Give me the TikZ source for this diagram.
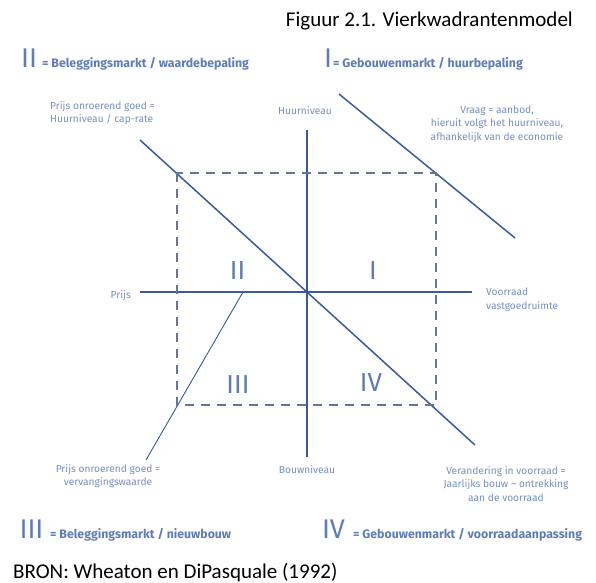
\documentclass[tikz,border=0pt]{standalone}
\usepackage{fontspec}
\setmainfont{Fira Sans}
\newfontfamily\calib{Carlito}
\definecolor{axiscol}{HTML}{3A5A9C}
\definecolor{lblcol}{HTML}{7890BC}
\definecolor{legcol}{HTML}{5F7DB3}
\definecolor{dashcol}{HTML}{6078A0}
\tikzset{
  axisline/.style={draw=axiscol, line width=1.5pt},
  thinline/.style={draw=axiscol, line width=0.9pt},
  dashbox/.style={draw=dashcol, line width=1.1pt, dash pattern=on 9pt off 7pt},
  lbl/.style={text=lblcol, font=\fontsize{10.2}{13.5}\selectfont, inner sep=0pt},
  roman/.style={text=legcol, font=\fontsize{26}{26}\selectfont, inner sep=0pt},
  legnum/.style={text=legcol, font=\fontsize{27}{27}\selectfont, inner sep=0pt, anchor=base},
  legtext/.style={text=legcol, font=\fontsize{12.3}{14}\selectfont\bfseries, inner sep=0pt, anchor=base west},
  plain/.style={text=black, font=\calib\fontsize{21}{24}\selectfont, inner sep=0pt}
}
\begin{document}
\begin{tikzpicture}[x=1pt,y=-1pt]
\useasboundingbox[fill=white] (0,0) rectangle (596,582);
% axes
\coordinate (xl) at (140,292);
\coordinate (xr) at (472,292);
\coordinate (yt) at (307,130);
\coordinate (yb) at (307,457);
\draw[axisline] (xl) -- (xr);
\draw[axisline] (yt) -- (yb);
% curves
\coordinate (d1) at (140,140);
\coordinate (d2) at (475,445);
\draw[axisline] (d1) -- (d2);
\coordinate (q1a) at (339,94);
\coordinate (q1b) at (515,238);
\draw[axisline] (q1a) -- (q1b);
\coordinate (q3a) at (243,292);
\coordinate (q3b) at (146,460);
\draw[thinline] (q3a) -- (q3b);
% dashed box
\coordinate (bx1) at (177,173);
\coordinate (bx2) at (436,405);
\draw[dashbox] (bx1) rectangle (bx2);
% quadrant numerals
\node[roman] (rII) at (237.5,271) {II};
\node[roman] (rI) at (373,271) {I};
\node[roman] (rIII) at (238,385) {III};
\node[roman] (rIV) at (371,383) {IV};
% labels
\node[lbl] (huur) at (305,111) {Huurniveau};
\node[lbl, anchor=north west, align=left] (pog1) at (50,101) {Prijs onroerend goed =\\Huurniveau / cap-rate};
\node[lbl, align=center] (vraag) at (497,124) {Vraag = aanbod,\\hieruit volgt het huurniveau,\\afhankelijk van de economie};
\node[lbl, anchor=east] (prijs) at (131,296) {Prijs};
\node[lbl, anchor=west, align=left] (voorraad) at (486,300) {Voorraad\\vastgoedruimte};
\node[lbl, align=center] (pog2) at (108,476) {Prijs onroerend goed =\\vervangingswaarde};
\node[lbl] (bouw) at (307,470) {Bouwniveau};
\node[lbl, align=center] (verand) at (506,484) {Verandering in voorraad =\\Jaarlijks bouw -- ontrekking\\aan de voorraad};
% legends
\node[legnum] (lII) at (29,67) {II};
\node[legtext] (tII) at (42,67) {= Beleggingsmarkt / waardebepaling};
\node[legnum] (lI) at (328,67) {I};
\node[legtext] (tI) at (333,67) {= Gebouwenmarkt / huurbepaling};
\node[legnum] (lIII) at (31.5,538) {III};
\node[legtext] (tIII) at (50,538) {= Beleggingsmarkt / nieuwbouw};
\node[legnum] (lIV) at (333.5,538) {IV};
\node[legtext] (tIV) at (353,538) {= Gebouwenmarkt / voorraadaanpassing};
% title and source
\node[plain, anchor=base east] (title) at (573,26) {Figuur 2.1. Vierkwadrantenmodel};
\node[plain, anchor=base west] (bron) at (13,578) {BRON: Wheaton en DiPasquale (1992)};
\end{tikzpicture}
\end{document}
